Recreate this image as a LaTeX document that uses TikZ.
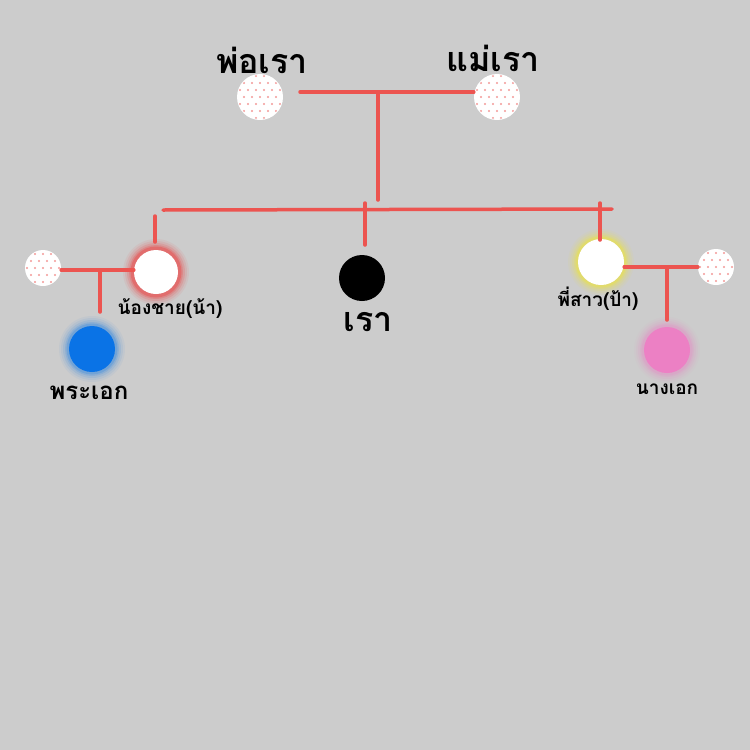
\documentclass[tikz,border=0pt]{standalone}
\usepackage{fontspec}
\newfontfamily\thaifont[Script=Thai]{Loma}
\definecolor{bg}{RGB}{204,204,204}
\definecolor{ln}{RGB}{236,84,80}
\definecolor{blu}{RGB}{10,115,230}
\definecolor{pnk}{RGB}{236,128,196}
\tikzset{
  link/.style={draw=ln,line width=3.5pt,line cap=round},
  spouse/.style={circle,minimum size=#1,inner sep=0pt,fill=white},
  person/.style={circle,minimum size=46pt,inner sep=0pt},
  lab/.style={inner sep=0pt},
}
\newcommand{\glow}[3]{\foreach \r/\o in {33/0.05,31/0.07,29/0.1,27/0.14,25.5/0.2}{\fill[#3,opacity=\o] (#1,#2) circle (\r pt);}}
\newcommand{\spotfill}[3]{\begin{scope}\clip (#1,#2) circle (#3 pt);
\foreach \i in {-3,...,3}{\foreach \j in {-3,...,3}{\fill[ln!60] ({#1+\i*8+mod(abs(\j),2)*4},{#2+\j*7}) circle (1.1pt);}}\end{scope}}
\begin{document}
\begin{tikzpicture}[x=1pt,y=-1pt]
\fill[bg] (0,0) rectangle (750,750);
\useasboundingbox (0,0) rectangle (750,750);
% nodes
\node[spouse=46pt] (dad) at (260,97) {}; \spotfill{260}{97}{22}
\node[spouse=46pt] (mom) at (497,97) {}; \spotfill{497}{97}{22}
\glow{156}{272}{red}
\node[person,fill=white,minimum size=44pt] (uncle) at (156,272) {};
\node[spouse=36pt] (ls) at (43,268) {}; \spotfill{43}{268}{17}
\glow{92}{349}{blu}
\node[person,fill=blu] (hero) at (92,349) {};
\node[person,fill=black] (me) at (362,278) {};
\glow{601}{262}{yellow}
\node[person,fill=white] (aunt) at (601,262) {};
\node[spouse=36pt] (rs) at (716,267) {}; \spotfill{716}{267}{17}
\glow{667}{350}{pnk}
\node[person,fill=pnk] (heroine) at (667,350) {};
% coordinates
\coordinate (pl) at (300,92);
\coordinate (pm) at (378,92);
\coordinate (sibm) at (378,200);
\coordinate (sl) at (163,210);
\coordinate (sr) at (612,209);
\coordinate (ul) at (155,242);
\coordinate (cl) at (365,245);
\coordinate (ct) at (365,203);
\coordinate (rl) at (600,240);
\coordinate (rt) at (600,203);
\coordinate (lm) at (100,270);
\coordinate (lb) at (100,312);
\coordinate (rm) at (667,267);
\coordinate (rb) at (667,320);
% links
\draw[link] (pl) -- (mom.west |- pl);
\draw[link] (pm) -- (sibm);
\draw[link] (sl) -- (sr);
\draw[link] (ul) -- (155,216);
\draw[link] (ct) -- (cl);
\draw[link] (rt) -- (rl);
\draw[link] (ls.east |- lm) -- (uncle.west |- lm);
\draw[link] (lm) -- (lb);
\draw[link] (aunt.east |- rm) -- (rs.west |- rm);
\draw[link] (rm) -- (rb);
% labels
\node[lab,font=\thaifont\bfseries\fontsize{34}{36}\selectfont] (t1) at (262,60) {พ่อเรา};
\node[lab,font=\thaifont\bfseries\fontsize{34}{36}\selectfont] (t2) at (493,58) {แม่เรา};
\node[lab,font=\thaifont\bfseries\fontsize{34}{36}\selectfont] (t3) at (368,322) {เรา};
\node[lab,font=\thaifont\bfseries\fontsize{19}{21}\selectfont] (t4) at (170,309) {น้องชาย(น้า)};
\node[lab,font=\thaifont\bfseries\fontsize{19}{21}\selectfont] (t5) at (598,299) {พี่สาว(ป้า)};
\node[lab,font=\thaifont\bfseries\fontsize{24}{26}\selectfont] (t6) at (89,393) {พระเอก};
\node[lab,font=\thaifont\bfseries\fontsize{19}{21}\selectfont] (t7) at (667,389) {นางเอก};
\end{tikzpicture}
\end{document}
